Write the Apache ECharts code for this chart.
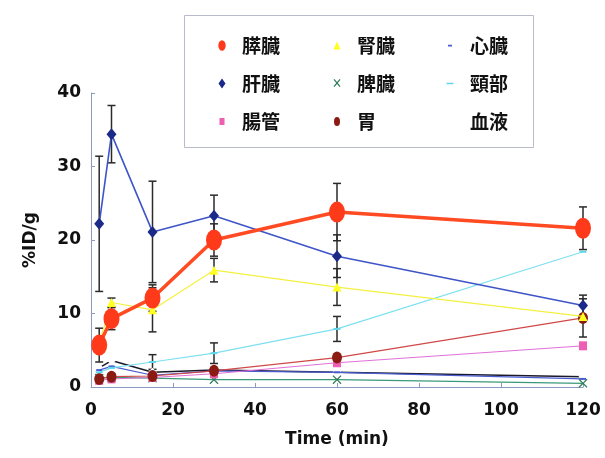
<!DOCTYPE html>
<html>
<head>
<meta charset="utf-8">
<script src="https://cdn.jsdelivr.net/npm/echarts@6/dist/echarts.min.js"></script>
<style>
  html, body { margin: 0; padding: 0; background: #fff; }
  #chart { width: 605px; height: 458px; }
</style>
</head>
<body>
<div id="chart"></div>
<script>
// Sampling times (min)
const times = [2, 5, 15, 30, 60, 120];
const xTicks = [0, 20, 40, 60, 80, 100, 120];
const yTicks = [0, 10, 20, 30, 40];

// Uptake per organ (%ID/g) and standard deviations
const pancreas     = [5.7, 9.3, 12.1, 20.0, 23.8, 21.6];
const pancreasErr  = [2.3, 1.5, 1.8, 2.2, 3.9, 2.9];
const liver        = [22.2, 34.4, 21.1, 23.3, 17.8, 11.1];
const liverErr     = [9.2, 3.9, 6.9, 2.8, 2.9, 1.4];
const intestine    = [0.9, 1.1, 1.3, 1.8, 3.3, 5.6];
const kidney       = [6.0, 11.5, 10.5, 15.9, 13.6, 9.6];
const kidneyErr    = [0, 0.6, 3.0, 1.6, 2.5, 0];
const spleen       = [1.2, 1.3, 1.2, 1.0, 1.0, 0.5];
const stomach      = [1.1, 1.4, 1.5, 2.2, 4.0, 9.4];
const stomachErr   = [0, 0, 0, 0, 0, 2.6];
const heart        = [2.3, 2.8, 1.6, 2.2, 2.0, 1.1];
const neck         = [2.0, 2.6, 3.4, 4.6, 7.9, 18.4];
const neckErr      = [0, 0, 1.0, 1.4, 1.7, 0];
const blood        = [2.6, 3.6, 2.0, 2.3, 2.0, 1.4];

const X_PATH = 'path://M0,1L1,0L5,4L9,0L10,1L6,5L10,9L9,10L5,6L1,10L0,9L4,5Z';

// Legend glyphs drawn inside a fixed 14x14 box (tiny corner specks pin the box size)
const BOX = 'M0,0h0.01v0.01h-0.01Z M14,14h-0.01v-0.01h0.01Z ';
const legendIcons = {
  '膵臓': 'path://' + BOX + 'M3.3,7A3.7,5.2 0 1,0 10.7,7A3.7,5.2 0 1,0 3.3,7Z',
  '肝臓': 'path://' + BOX + 'M7,2L10.5,7L7,12L3.5,7Z',
  '腸管': 'path://' + BOX + 'M4.5,3.5h5v7h-5Z',
  '腎臓': 'path://' + BOX + 'M7,3L10.5,11L3.5,11Z',
  '脾臓': 'path://' + BOX + 'M3.5,3.2L4.4,2.5L7,5.6L9.6,2.5L10.5,3.2L7.8,6.5L10.5,9.8L9.6,10.5L7,7.4L4.4,10.5L3.5,9.8L6.2,6.5Z',
  '胃':   'path://' + BOX + 'M4,7A3,4.5 0 1,0 10,7A3,4.5 0 1,0 4,7Z',
  '心臓': 'path://' + BOX + 'M5,6.2h4v1.8h-4Z',
  '頸部': 'path://' + BOX + 'M3.5,6.2h7v1.6h-7Z',
  '血液': 'path://' + BOX
};

function pts(vals) { return times.map((t, i) => [t, vals[i]]); }
function errPts(vals, errs) {
  const out = [];
  times.forEach((t, i) => { if (errs[i] > 0) out.push([t, vals[i] - errs[i], vals[i] + errs[i]]); });
  return out;
}

function lineSeries(name, vals, opt) {
  return {
    name: name, type: 'line', data: pts(vals),
    symbol: opt.symbol, symbolSize: opt.size,
    lineStyle: { color: opt.line, width: opt.width || 1 },
    itemStyle: { color: opt.fill, borderColor: opt.border || opt.fill, borderWidth: opt.bw || 0 },
    z: opt.z || 3, animation: false, emphasis: { disabled: true }
  };
}

function errSeries(data) {
  return {
    type: 'custom', data: data, z: 2, animation: false, silent: true,
    renderItem: function (params, api) {
      const lo = api.coord([api.value(0), api.value(1)]);
      const hi = api.coord([api.value(0), api.value(2)]);
      const w = 4;
      const st = { stroke: '#2a2a2a', lineWidth: 1.5 };
      return {
        type: 'group', children: [
          { type: 'line', shape: { x1: lo[0], y1: lo[1], x2: hi[0], y2: hi[1] }, style: st },
          { type: 'line', shape: { x1: lo[0] - w, y1: lo[1], x2: lo[0] + w, y2: lo[1] }, style: st },
          { type: 'line', shape: { x1: hi[0] - w, y1: hi[1], x2: hi[0] + w, y2: hi[1] }, style: st }
        ]
      };
    }
  };
}

const legendText = { fontFamily: 'Noto Sans CJK JP', fontWeight: 'bold', fontSize: 19, color: '#111', padding: [0, 0, 0, 8] };
function legendCol(left, names) {
  return {
    orient: 'vertical', left: left, top: 31, itemGap: 19, itemWidth: 14, itemHeight: 14,
    selectedMode: false, textStyle: legendText,
    data: names.map(n => ({ name: n, icon: legendIcons[n] }))
  };
}

const axisFont = { fontFamily: 'DejaVu Sans', fontWeight: 'bold', fontSize: 17, color: '#111' };

const chart = echarts.init(document.getElementById('chart'), null, { renderer: 'canvas' });
chart.setOption({
  animation: false,
  backgroundColor: '#fff',
  grid: { left: 91, right: 22, top: 93, bottom: 71 },
  xAxis: {
    type: 'value', min: xTicks[0], max: xTicks[xTicks.length - 1], interval: 20,
    name: 'Time (min)', nameLocation: 'middle', nameGap: 44,
    nameTextStyle: axisFont,
    axisLine: { lineStyle: { color: '#8a9ac0', width: 1 } },
    axisTick: { inside: true, length: 4, lineStyle: { color: '#8a9ac0' } },
    axisLabel: Object.assign({ margin: 15 }, axisFont),
    splitLine: { show: false }
  },
  yAxis: {
    type: 'value', min: yTicks[0], max: yTicks[yTicks.length - 1], interval: 10,
    name: '%ID/g', nameLocation: 'middle', nameGap: 52, nameRotate: 90,
    nameTextStyle: axisFont,
    axisLine: { show: true, lineStyle: { color: '#8a9ac0', width: 1 } },
    axisTick: { show: true, inside: true, length: 4, lineStyle: { color: '#8a9ac0' } },
    axisLabel: Object.assign({ margin: 10 }, axisFont),
    splitLine: { show: false }
  },
  legend: [
    legendCol(210, ['膵臓', '肝臓', '腸管']),
    legendCol(325, ['腎臓', '脾臓', '胃']),
    legendCol(438, ['心臓', '頸部', '血液'])
  ],
  graphic: [{
    type: 'rect', left: 184, top: 15, z: -1,
    shape: { width: 349, height: 132 },
    style: { fill: '#fff', stroke: '#b8bcc8', lineWidth: 1 }
  }],
  series: [
    errSeries(errPts(liver, liverErr)),
    errSeries(errPts(kidney, kidneyErr)),
    errSeries(errPts(neck, neckErr)),
    errSeries(errPts(stomach, stomachErr)),
    errSeries(errPts(pancreas, pancreasErr)),
    lineSeries('血液', blood, { symbol: 'diamond', size: 9, line: '#1a1a2a', fill: '#ffffff', width: 1.5, z: 3 }),
    lineSeries('脾臓', spleen, { symbol: X_PATH, size: 9, line: '#3a9a78', fill: '#2e7d5a', width: 1.2, z: 4 }),
    lineSeries('心臓', heart, { symbol: 'rect', size: [6, 2], line: '#4a5cd0', fill: '#4a5cd0', width: 1.2, z: 4 }),
    lineSeries('腸管', intestine, { symbol: 'rect', size: [8, 9], line: '#e070d8', fill: '#ee5fb4', width: 1, z: 4 }),
    lineSeries('胃', stomach, { symbol: 'circle', size: [10, 12], line: '#d04848', fill: '#8b1a12', width: 1.2, z: 4 }),
    lineSeries('頸部', neck, { symbol: 'rect', size: [7, 2], line: '#7de0f0', fill: '#5fd8ec', width: 1.2, z: 4 }),
    lineSeries('腎臓', kidney, { symbol: 'triangle', size: [9, 9], line: '#f4f040', fill: '#ffff20', width: 1.2, z: 5 }),
    lineSeries('肝臓', liver, { symbol: 'diamond', size: [10, 12], line: '#3e55c8', fill: '#1b2a88', width: 1.6, z: 6 }),
    lineSeries('膵臓', pancreas, { symbol: 'circle', size: [16, 21], line: '#ff4a22', fill: '#ff3a1a', width: 3.5, z: 7 })
  ]
});
</script>
</body>
</html>
